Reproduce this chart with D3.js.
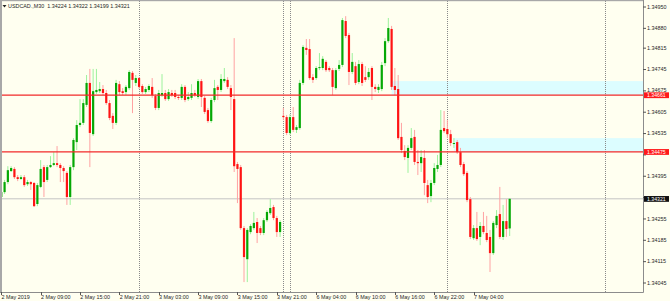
<!DOCTYPE html>
<html>
<head>
<meta charset="utf-8">
<script src="https://cdn.jsdelivr.net/npm/d3@7"></script>
<style>
    body { margin: 0; background: #fffff0; }
    svg { display: block; font-family: "Liberation Sans", Arial, sans-serif; }
</style>
</head>
<body>
<svg id="chart"></svg>
<script>
// USDCAD M30, one candle per array slot. Bar 0 is 2 May 03:00.
const symbolTitle = "USDCAD.,M30";
const open = [
    1.34327, 1.34343, 1.34376, 1.34412, 1.34419, 1.34392, 1.34386, 1.34392, 1.34369, 1.34376,
    1.34373, 1.34304, 1.34360, 1.34425, 1.34383, 1.34425, 1.34432, 1.34438, 1.34432, 1.34422,
    1.34406, 1.34327, 1.34425, 1.34507, 1.34563, 1.34570, 1.34629, 1.34701, 1.34533, 1.34671,
    1.34674, 1.34681, 1.34668, 1.34635, 1.34593, 1.34570, 1.34697, 1.34674, 1.34671, 1.34684,
    1.34734, 1.34701, 1.34717, 1.34691, 1.34671, 1.34678, 1.34688, 1.34658, 1.34619, 1.34661,
    1.34668, 1.34648, 1.34668, 1.34668, 1.34655, 1.34652, 1.34688, 1.34648, 1.34652, 1.34668,
    1.34655, 1.34707, 1.34652, 1.34612, 1.34576, 1.34645, 1.34688, 1.34678, 1.34707, 1.34711,
    1.34684, 1.34648, 1.34435, 1.34425, 1.34225, 1.34123, 1.34212, 1.34225, 1.34245, 1.34225,
    1.34209, 1.34251, 1.34274, 1.34294, 1.34258, 1.34212, 1.34593, 1.34589, 1.34537, 1.34589,
    1.34547, 1.34553, 1.34701, 1.34816, 1.34812, 1.34720, 1.34717, 1.34750, 1.34750, 1.34770,
    1.34750, 1.34743, 1.34684, 1.34747, 1.34760, 1.34904, 1.34858, 1.34737, 1.34756, 1.34704,
    1.34763, 1.34720, 1.34720, 1.34750, 1.34688, 1.34678, 1.34681, 1.34766, 1.34838, 1.34878,
    1.34691, 1.34681, 1.34524, 1.34478, 1.34455, 1.34488, 1.34524, 1.34442, 1.34438, 1.34455,
    1.34366, 1.34330, 1.34373, 1.34419, 1.34432, 1.34553, 1.34550, 1.34533, 1.34501, 1.34507,
    1.34474, 1.34435, 1.34406, 1.34320, 1.34192, 1.34225, 1.34196, 1.34232, 1.34209, 1.34196,
    1.34143, 1.34235, 1.34271, 1.34196, 1.34248, 1.34224
];
const high = [
    1.34350, 1.34383, 1.34428, 1.34428, 1.34425, 1.34399, 1.34399, 1.34399, 1.34383, 1.34379,
    1.34376, 1.34373, 1.34448, 1.34432, 1.34432, 1.34461, 1.34474, 1.34494, 1.34438, 1.34428,
    1.34412, 1.34432, 1.34520, 1.34579, 1.34648, 1.34648, 1.34727, 1.34747, 1.34747, 1.34747,
    1.34704, 1.34694, 1.34678, 1.34645, 1.34602, 1.34711, 1.34707, 1.34684, 1.34694, 1.34743,
    1.34740, 1.34727, 1.34720, 1.34697, 1.34688, 1.34697, 1.34717, 1.34665, 1.34678, 1.34730,
    1.34678, 1.34681, 1.34678, 1.34678, 1.34661, 1.34697, 1.34694, 1.34671, 1.34697, 1.34678,
    1.34714, 1.34714, 1.34658, 1.34619, 1.34652, 1.34711, 1.34694, 1.34730, 1.34750, 1.34720,
    1.34694, 1.34848, 1.34442, 1.34432, 1.34232, 1.34225, 1.34238, 1.34278, 1.34258, 1.34232,
    1.34258, 1.34284, 1.34320, 1.34301, 1.34265, 1.34251, 1.34619, 1.34596, 1.34599, 1.34622,
    1.34563, 1.34711, 1.34825, 1.34845, 1.34845, 1.34730, 1.34756, 1.34799, 1.34789, 1.34776,
    1.34756, 1.34750, 1.34750, 1.34776, 1.34914, 1.34920, 1.34865, 1.34799, 1.34770, 1.34776,
    1.34770, 1.34756, 1.34750, 1.34756, 1.34697, 1.34697, 1.34770, 1.34848, 1.34914, 1.34888,
    1.34750, 1.34727, 1.34570, 1.34497, 1.34497, 1.34553, 1.34547, 1.34481, 1.34481, 1.34481,
    1.34383, 1.34383, 1.34438, 1.34465, 1.34612, 1.34609, 1.34579, 1.34547, 1.34520, 1.34514,
    1.34488, 1.34442, 1.34412, 1.34327, 1.34235, 1.34278, 1.34245, 1.34278, 1.34265, 1.34219,
    1.34248, 1.34284, 1.34360, 1.34301, 1.34320, 1.34322
];
const low = [
    1.34317, 1.34337, 1.34369, 1.34409, 1.34386, 1.34379, 1.34383, 1.34360, 1.34363, 1.34350,
    1.34294, 1.34297, 1.34356, 1.34327, 1.34376, 1.34422, 1.34428, 1.34425, 1.34376, 1.34376,
    1.34301, 1.34301, 1.34415, 1.34481, 1.34556, 1.34563, 1.34622, 1.34425, 1.34527, 1.34665,
    1.34668, 1.34661, 1.34629, 1.34579, 1.34550, 1.34563, 1.34661, 1.34661, 1.34661, 1.34678,
    1.34602, 1.34691, 1.34681, 1.34665, 1.34665, 1.34671, 1.34652, 1.34612, 1.34612, 1.34655,
    1.34642, 1.34642, 1.34655, 1.34648, 1.34645, 1.34645, 1.34638, 1.34642, 1.34645, 1.34655,
    1.34648, 1.34622, 1.34599, 1.34570, 1.34570, 1.34638, 1.34645, 1.34671, 1.34701, 1.34681,
    1.34612, 1.34409, 1.34307, 1.34219, 1.34048, 1.34048, 1.34205, 1.34219, 1.34176, 1.34202,
    1.34202, 1.34245, 1.34268, 1.34251, 1.34196, 1.34196, 1.34579, 1.34530, 1.34530, 1.34540,
    1.34537, 1.34547, 1.34694, 1.34793, 1.34711, 1.34701, 1.34711, 1.34743, 1.34743, 1.34737,
    1.34737, 1.34661, 1.34678, 1.34740, 1.34753, 1.34848, 1.34694, 1.34730, 1.34694, 1.34697,
    1.34691, 1.34704, 1.34711, 1.34645, 1.34671, 1.34668, 1.34674, 1.34756, 1.34832, 1.34678,
    1.34661, 1.34514, 1.34471, 1.34448, 1.34406, 1.34481, 1.34432, 1.34399, 1.34409, 1.34333,
    1.34307, 1.34310, 1.34366, 1.34409, 1.34425, 1.34537, 1.34520, 1.34494, 1.34488, 1.34468,
    1.34425, 1.34396, 1.34310, 1.34189, 1.34186, 1.34183, 1.34169, 1.34205, 1.34179, 1.34081,
    1.34137, 1.34225, 1.34189, 1.34186, 1.34196, 1.34199
];
const close = [
    1.34343, 1.34376, 1.34415, 1.34422, 1.34392, 1.34386, 1.34392, 1.34366, 1.34376, 1.34369,
    1.34297, 1.34366, 1.34419, 1.34376, 1.34425, 1.34432, 1.34438, 1.34432, 1.34422, 1.34412,
    1.34327, 1.34425, 1.34514, 1.34563, 1.34570, 1.34635, 1.34701, 1.34537, 1.34674, 1.34678,
    1.34681, 1.34668, 1.34635, 1.34586, 1.34570, 1.34701, 1.34671, 1.34668, 1.34688, 1.34737,
    1.34711, 1.34717, 1.34688, 1.34671, 1.34681, 1.34691, 1.34661, 1.34619, 1.34668, 1.34668,
    1.34648, 1.34671, 1.34661, 1.34655, 1.34652, 1.34688, 1.34645, 1.34655, 1.34668, 1.34661,
    1.34707, 1.34655, 1.34606, 1.34576, 1.34645, 1.34684, 1.34678, 1.34714, 1.34714, 1.34688,
    1.34655, 1.34428, 1.34419, 1.34225, 1.34130, 1.34219, 1.34232, 1.34242, 1.34209, 1.34209,
    1.34251, 1.34278, 1.34291, 1.34258, 1.34212, 1.34245, 1.34589, 1.34537, 1.34589, 1.34547,
    1.34556, 1.34701, 1.34819, 1.34809, 1.34717, 1.34711, 1.34750, 1.34753, 1.34780, 1.34743,
    1.34743, 1.34688, 1.34743, 1.34760, 1.34907, 1.34855, 1.34737, 1.34770, 1.34701, 1.34763,
    1.34701, 1.34711, 1.34737, 1.34688, 1.34681, 1.34688, 1.34760, 1.34838, 1.34881, 1.34688,
    1.34678, 1.34520, 1.34481, 1.34458, 1.34488, 1.34520, 1.34442, 1.34438, 1.34458, 1.34373,
    1.34327, 1.34373, 1.34422, 1.34432, 1.34547, 1.34543, 1.34533, 1.34504, 1.34504, 1.34474,
    1.34432, 1.34402, 1.34317, 1.34196, 1.34225, 1.34189, 1.34232, 1.34212, 1.34186, 1.34143,
    1.34242, 1.34265, 1.34196, 1.34248, 1.34222, 1.34321
];

// Time axis labels and the bar each one sits on.
const timeLabels = ["2 May 2019", "2 May 09:00", "2 May 15:00", "2 May 21:00", "3 May 03:00",
    "3 May 09:00", "3 May 15:00", "3 May 21:00", "6 May 04:00", "6 May 10:00", "6 May 16:00",
    "6 May 22:00", "7 May 04:00"];
const timeLabelBars = [0, 12, 24, 36, 48, 60, 72, 84, 96, 108, 120, 132, 144];
// Day separators (first bar of each day), 8 May is still in the future.
const separatorBars = [42, 86, 88, 136, 184];

// Price scale labels
const priceTicks = [1.34950, 1.34880, 1.34815, 1.34745, 1.34675, 1.34605, 1.34535, 1.34465,
    1.34395, 1.34325, 1.34255, 1.34185, 1.34115, 1.34045];

// Horizontal lines and supply/demand boxes drawn on the chart
const levels = [1.34661, 1.34475];
const zoneStartBar = [119, 138];
const zoneTop = [1.34707, 1.34520];
const zoneBottom = [1.34661, 1.34475];
const bid = close[close.length - 1];

const width = 670, height = 301;
const plotRight = 643, plotBottom = 292;

const svg = d3.select("#chart").attr("width", width).attr("height", height);

const x = d3.scaleLinear().domain([0, 184]).range([1.3, 604.8]); // bar index -> px
const y = d3.scaleLinear().domain([1.34950, 1.34045]).range([7, 283]);
const fmt = d3.format(".5f");

svg.append("rect").attr("width", width).attr("height", height).attr("fill", "#fffff0");

// boxes sit behind everything
svg.append("g").selectAll("rect")
    .data(zoneStartBar)
    .join("rect")
    .attr("x", d => x(d))
    .attr("y", (d, i) => y(zoneTop[i]))
    .attr("width", d => plotRight - x(d))
    .attr("height", (d, i) => y(zoneBottom[i]) - y(zoneTop[i]))
    .attr("fill", "#dcfdff");

// period separators
svg.append("g").selectAll("line")
    .data(separatorBars)
    .join("line")
    .attr("x1", d => Math.round(x(d)) + 0.5)
    .attr("x2", d => Math.round(x(d)) + 0.5)
    .attr("y1", 1).attr("y2", plotBottom)
    .attr("stroke", "#8a8a8a")
    .attr("stroke-dasharray", "1,1");

// bid line
svg.append("line")
    .attr("x1", 2).attr("x2", plotRight)
    .attr("y1", y(bid)).attr("y2", y(bid))
    .attr("stroke", "#c4c4c4");

// candles
const bars = d3.range(open.length);
const bull = i => close[i] >= open[i];

svg.append("g").selectAll("line")
    .data(bars)
    .join("line")
    .attr("x1", i => x(i)).attr("x2", i => x(i))
    .attr("y1", i => y(high[i])).attr("y2", i => y(low[i]))
    .attr("stroke", i => bull(i) ? "#9cf29c" : "#ffa2a2")
    .attr("stroke-width", 1);

svg.append("g").selectAll("rect")
    .data(bars)
    .join("rect")
    .attr("x", i => x(i) - 1.1)
    .attr("width", 2.2)
    .attr("y", i => y(Math.max(open[i], close[i])))
    .attr("height", i => Math.max(1, Math.abs(y(open[i]) - y(close[i]))))
    .attr("fill", i => bull(i) ? "#05a805" : "#ff1414");

// red horizontal levels
svg.append("g").selectAll("line")
    .data(levels)
    .join("line")
    .attr("x1", 2).attr("x2", plotRight)
    .attr("y1", d => y(d)).attr("y2", d => y(d))
    .attr("stroke", "#f22a2a")
    .attr("stroke-width", 1.4);

// frame: left/top borders and the two axis lines
svg.append("rect").attr("x", 0).attr("y", 0).attr("width", 2).attr("height", plotBottom).attr("fill", "#a8a8a8");
svg.append("rect").attr("x", 0).attr("y", 0).attr("width", plotRight).attr("height", 1.2).attr("fill", "#a8a8a8");
svg.append("line").attr("x1", plotRight + 0.5).attr("x2", plotRight + 0.5)
    .attr("y1", 0).attr("y2", plotBottom + 0.5).attr("stroke", "#8c8c8c");
svg.append("line").attr("x1", 0).attr("x2", plotRight + 0.5)
    .attr("y1", plotBottom + 0.5).attr("y2", plotBottom + 0.5).attr("stroke", "#8c8c8c");

// price axis; a scale label that sits under a price tag is hidden, as in the terminal
const tagged = levels.concat([bid]);
const visibleTicks = priceTicks.filter(p => d3.min(tagged, t => Math.abs(y(t) - y(p))) > 3.5);

const pAxis = svg.append("g").attr("font-size", 5.4).attr("fill", "#262626");
pAxis.selectAll("line")
    .data(priceTicks)
    .join("line")
    .attr("x1", plotRight).attr("x2", plotRight + 3)
    .attr("y1", d => y(d)).attr("y2", d => y(d))
    .attr("stroke", "#555");
pAxis.selectAll("text")
    .data(visibleTicks)
    .join("text")
    .attr("x", plotRight + 4)
    .attr("y", d => y(d))
    .attr("dy", "0.3em")
    .text(d => fmt(d));

// price tags for the levels and the bid
function tag(value, bg) {
    const g = svg.append("g");
    g.append("rect")
        .attr("x", plotRight + 1).attr("y", y(value) - 2.8)
        .attr("width", width - plotRight - 2).attr("height", 5.8)
        .attr("fill", bg);
    g.append("text")
        .attr("x", plotRight + 4).attr("y", y(value)).attr("dy", "0.38em")
        .attr("font-size", 5.2).attr("fill", "#fff")
        .text(fmt(value));
}
levels.forEach(v => tag(v, "#ff1a1a"));
tag(bid, "#111");

// time axis
const tAxis = svg.append("g").attr("font-size", 5.4).attr("fill", "#262626");
tAxis.selectAll("line")
    .data(timeLabelBars)
    .join("line")
    .attr("x1", d => Math.round(x(d)) + 0.5).attr("x2", d => Math.round(x(d)) + 0.5)
    .attr("y1", plotBottom).attr("y2", plotBottom + 3)
    .attr("stroke", "#555");
tAxis.selectAll("text")
    .data(timeLabels)
    .join("text")
    .attr("x", (d, i) => x(timeLabelBars[i]) + 0.3)
    .attr("y", plotBottom + 5)
    .attr("dy", "0.35em")
    .text(d => d);

// header
svg.append("path").attr("d", "M2.5,5 L6.5,5 L4.5,7.5 Z").attr("fill", "#222");
svg.append("text")
    .attr("x", 8).attr("y", 6.3).attr("dy", "0.35em")
    .attr("font-size", 5.4).attr("fill", "#262626")
    .attr("xml:space", "preserve")
    .text(`${symbolTitle}  ${fmt(open[155])} ${fmt(high[155])} ${fmt(low[155])} ${fmt(close[155])}`);
</script>
</body>
</html>
